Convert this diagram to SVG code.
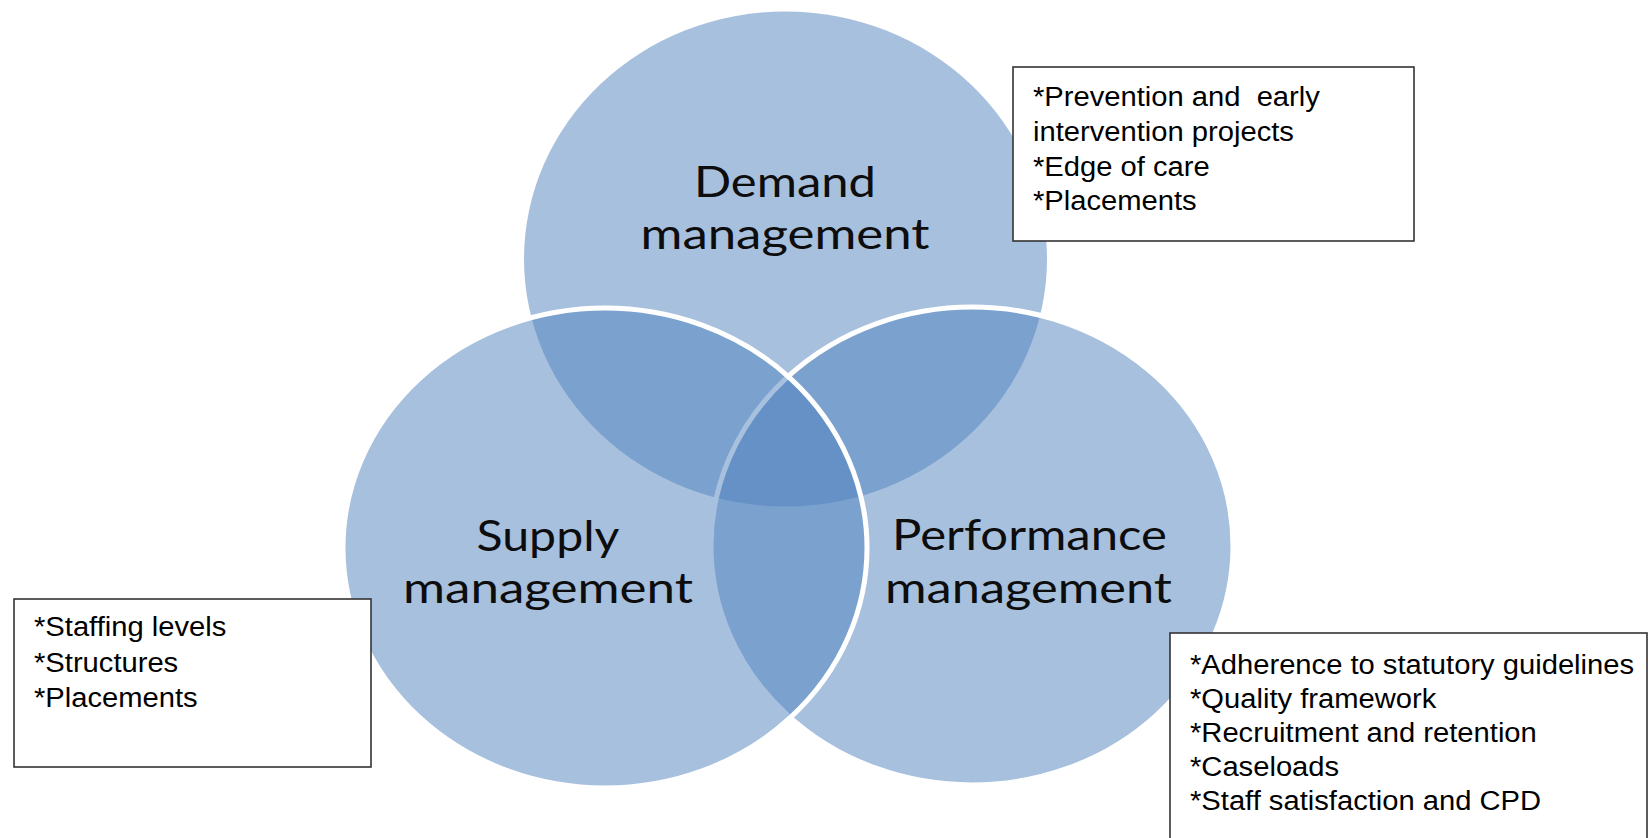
<svg xmlns="http://www.w3.org/2000/svg" width="1648" height="838" viewBox="0 0 1648 838">
  <style>
    .venn { fill: #4F81BD; fill-opacity: 0.5; stroke: #FFFFFF; stroke-width: 5; }
    .venn-top { fill: #4F81BD; fill-opacity: 0.5; stroke: none; }
    .label { font-family: Lato, "Liberation Sans", sans-serif; font-size: 43px; fill: #0d0d0d; text-anchor: middle; }
    .box { fill: #FFFFFF; stroke: #333333; stroke-width: 1.6; }
    .boxtext { font-family: "Liberation Sans", Arial, sans-serif; font-size: 27px; fill: #000000; }
  </style>
  <rect x="0" y="0" width="1648" height="838" fill="#FFFFFF"/>

  <g id="node-demand">
    <ellipse class="venn-top" cx="785.5" cy="259" rx="261.5" ry="247.5"/>
    <text class="label" x="785" y="197" textLength="182" lengthAdjust="spacingAndGlyphs">Demand</text>
    <text class="label" x="785" y="249" textLength="289" lengthAdjust="spacingAndGlyphs">management</text>
  </g>

  <g id="node-performance">
    <ellipse class="venn" cx="972" cy="546" rx="261" ry="239"/>
    <text class="label" x="1029.5" y="550" textLength="275" lengthAdjust="spacingAndGlyphs">Performance</text>
    <text class="label" x="1028.5" y="603" textLength="287" lengthAdjust="spacingAndGlyphs">management</text>
  </g>

  <g id="node-supply">
    <ellipse class="venn" cx="605" cy="548" rx="262" ry="240"/>
    <text class="label" x="548" y="551" textLength="143" lengthAdjust="spacingAndGlyphs">Supply</text>
    <text class="label" x="548" y="603" textLength="290" lengthAdjust="spacingAndGlyphs">management</text>
  </g>

  <g id="connectors"></g>

  <g id="box-demand">
    <rect class="box" x="1013" y="67" width="401" height="174"/>
    <g transform="translate(1033 0) scale(1.08 1)">
      <text class="boxtext" x="0" y="106" xml:space="preserve">*Prevention and  early</text>
      <text class="boxtext" x="0" y="141">intervention projects</text>
      <text class="boxtext" x="0" y="176">*Edge of care</text>
      <text class="boxtext" x="0" y="210">*Placements</text>
    </g>
  </g>

  <g id="box-supply">
    <rect class="box" x="14" y="599" width="357" height="168"/>
    <g transform="translate(34 0) scale(1.08 1)">
      <text class="boxtext" x="0" y="636">*Staffing levels</text>
      <text class="boxtext" x="0" y="672">*Structures</text>
      <text class="boxtext" x="0" y="707">*Placements</text>
    </g>
  </g>

  <g id="box-performance">
    <rect class="box" x="1170" y="633" width="477" height="215"/>
    <g transform="translate(1190 0) scale(1.08 1)">
      <text class="boxtext" x="0" y="674">*Adherence to statutory guidelines</text>
      <text class="boxtext" x="0" y="708">*Quality framework</text>
      <text class="boxtext" x="0" y="742">*Recruitment and retention</text>
      <text class="boxtext" x="0" y="776">*Caseloads</text>
      <text class="boxtext" x="0" y="810">*Staff satisfaction and CPD</text>
    </g>
  </g>
</svg>
